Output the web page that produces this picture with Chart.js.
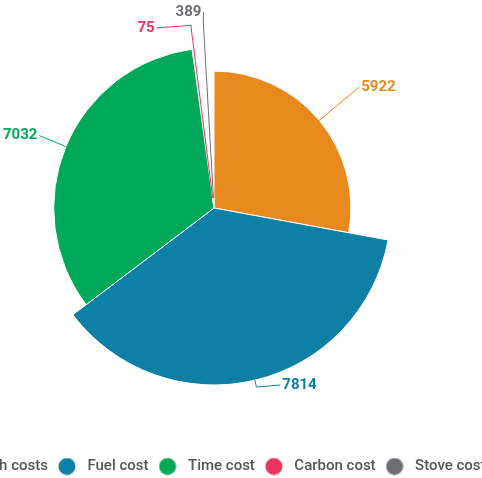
<!DOCTYPE html>
<html><head><meta charset="utf-8">
<script src="https://cdn.jsdelivr.net/npm/chart.js@4"></script>
<style>
html,body{margin:0;padding:0;background:#fff;overflow:hidden;width:482px;height:478px;}
#wrap{position:absolute;left:-76px;top:-37px;width:580px;height:521px;}
</style></head><body>
<div id="wrap"><canvas id="c" width="580" height="521"></canvas></div>
<script>
const categories = ['Health costs', 'Fuel cost', 'Time cost', 'Carbon cost', 'Stove cost'];
const costValues = [5922, 7814, 7032, 75, 389];
const zValues = [76, 100, 90, 0, 0];
const sliceColors = ['#E8891D', '#0F80A5', '#00A859', '#E9345F', '#6E6F72'];

const MAX_RADIUS = 177;
const MIN_POINT = 10;
const LABEL_DIST = 12;
const LABEL_H = 16;

const variableRadius = {
  id: 'variableRadius',
  afterDatasetsUpdate(chart) {
    const meta = chart.getDatasetMeta(0);
    const maxR = meta.controller.outerRadius;
    const zMin = Math.min(...zValues), zMax = Math.max(...zValues);
    meta.data.forEach((arc, i) => {
      arc.outerRadius = MIN_POINT + (maxR - MIN_POINT) * (zValues[i] - zMin) / (zMax - zMin);
    });
  }
};

const sliceLabels = {
  id: 'sliceLabels',
  afterDatasetsDraw(chart) {
    const meta = chart.getDatasetMeta(0);
    const arcs = meta.data;
    const cx = arcs[0].x, cy = arcs[0].y;
    const maxR = meta.controller.outerRadius;
    const RL = maxR + LABEL_DIST;
    const items = [];
    arcs.forEach((arc, i) => {
      if (!costValues[i]) return;
      const th = (arc.startAngle + arc.endAngle) / 2;
      items.push({ i, th, r: arc.outerRadius, right: Math.cos(th) >= 0, ny: cy + RL * Math.sin(th) });
    });
    [true, false].forEach(side => {
      const list = items.filter(it => it.right === side).sort((a, b) => a.ny - b.ny);
      let blocks = list.map(it => ({ items: [it], sum: it.ny }));
      let merged = true;
      const top = b => b.sum / b.items.length - b.items.length * LABEL_H / 2;
      while (merged) {
        merged = false;
        for (let k = 0; k < blocks.length - 1; k++) {
          const a = blocks[k], b = blocks[k + 1];
          if (top(a) + a.items.length * LABEL_H > top(b)) {
            blocks.splice(k, 2, { items: a.items.concat(b.items), sum: a.sum + b.sum });
            merged = true; break;
          }
        }
      }
      blocks.forEach(b => {
        const t = top(b);
        b.items.forEach((it, j) => { it.y = t + LABEL_H * (j + 0.5); });
      });
    });
    const ctx = chart.ctx;
    ctx.save();
    ctx.font = 'bold 15px Roboto';
    ctx.textBaseline = 'middle';
    ctx.lineWidth = 1;
    items.forEach(it => {
      let y = Math.min(it.y, cy + RL - 12);
      const dx = Math.sqrt(Math.max(0, RL * RL - (y - cy) * (y - cy)));
      const bx = cx + (RL - 5) * Math.cos(it.th), by = cy + (RL - 5) * Math.sin(it.th);
      const ex = cx + it.r * Math.cos(it.th), ey = cy + it.r * Math.sin(it.th);
      let x = it.right ? Math.max(cx + dx, bx) : Math.min(cx - dx, bx);
      const col = sliceColors[it.i];
      ctx.strokeStyle = col;
      ctx.beginPath();
      ctx.moveTo(ex, ey);
      ctx.lineTo(bx, by);
      ctx.lineTo(x, y);
      ctx.stroke();
      ctx.fillStyle = col;
      ctx.textAlign = it.right ? 'left' : 'right';
      ctx.fillText(String(costValues[it.i]), x + (it.right ? 2 : -2), y);
    });
    ctx.restore();
  }
};

function circleImg(color) {
  const c = document.createElement('canvas');
  c.width = 18; c.height = 18;
  const g = c.getContext('2d');
  g.fillStyle = color;
  g.beginPath(); g.arc(9, 9, 8.5, 0, Math.PI * 2); g.fill();
  return c;
}

const baseGen = Chart.controllers.doughnut.overrides.plugins.legend.labels.generateLabels;

new Chart(document.getElementById('c'), {
  type: 'pie',
  data: {
    labels: categories,
    datasets: [{
      data: costValues,
      backgroundColor: sliceColors,
      borderColor: '#ffffff',
      borderWidth: 1,
      radius: MAX_RADIUS
    }]
  },
  options: {
    responsive: false,
    animation: false,
    layout: { padding: 0 },
    plugins: {
      tooltip: { enabled: false },
      legend: {
        position: 'bottom',
        align: 'start',
        labels: {
          usePointStyle: true,
          pointStyleWidth: 26,
          padding: 6,
          color: '#555555',
          font: { family: 'Roboto', size: 15, weight: '500' },
          generateLabels(chart) {
            return baseGen(chart).map(it => Object.assign(it, { pointStyle: circleImg(sliceColors[it.index]) }));
          }
        }
      }
    }
  },
  plugins: [variableRadius, sliceLabels]
});
</script>
</body></html>
